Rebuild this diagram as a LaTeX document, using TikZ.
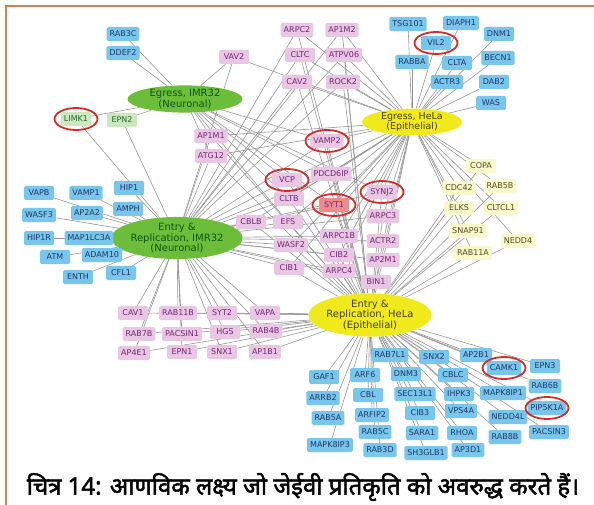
\documentclass[tikz,border=0pt]{standalone}
\usepackage{fontspec}
\setmainfont{DejaVu Sans}
\newfontfamily\hindifont[Script=Devanagari, AutoFakeBold=2]{Noto Sans}
\usetikzlibrary{shapes.geometric}
\pgfdeclarelayer{background}
\pgfsetlayers{background,main}
\definecolor{boxblue}{RGB}{120,198,235}
\definecolor{txtblue}{RGB}{35,55,105}
\definecolor{boxpink}{RGB}{234,198,229}
\definecolor{txtpink}{RGB}{115,40,115}
\definecolor{boxgreen}{RGB}{203,232,190}
\definecolor{txtgreen}{RGB}{45,100,45}
\definecolor{boxyellow}{RGB}{250,249,205}
\definecolor{txtyellow}{RGB}{85,80,25}
\definecolor{boxsalmon}{RGB}{236,140,140}
\definecolor{hubgreen}{RGB}{108,190,58}
\definecolor{hubgreentxt}{RGB}{15,85,20}
\definecolor{hubyellow}{RGB}{240,233,28}
\definecolor{hubyellowtxt}{RGB}{70,65,0}
\definecolor{ringred}{RGB}{212,45,40}
\definecolor{framecol}{RGB}{200,135,80}
\definecolor{linkgray}{RGB}{150,150,150}

\begin{document}
\begin{tikzpicture}[x=1pt,y=-1pt,
  gene/.style={rounded corners=1.5pt, minimum width=30pt, minimum height=14pt, inner xsep=3pt, inner ysep=0pt, font=\fontsize{8}{9}\selectfont},
  bluebox/.style={gene, fill=boxblue, text=txtblue},
  pinkbox/.style={gene, fill=boxpink, text=txtpink},
  greenbox/.style={gene, fill=boxgreen, text=txtgreen},
  yellowbox/.style={gene, fill=boxyellow, text=txtyellow},
  hub/.style={ellipse, inner sep=0pt, align=center, font=\fontsize{10}{10.5}\selectfont},
  greenhub/.style={hub, fill=hubgreen, text=hubgreentxt},
  yellowhub/.style={hub, fill=hubyellow, text=hubyellowtxt},
  ring/.style={ellipse, draw=ringred, line width=1.8pt, minimum width=43pt, minimum height=22pt, inner sep=0pt},
  link/.style={draw=linkgray, line width=0.6pt}]
\useasboundingbox (0,0) rectangle (594,505);
\draw[framecol, line width=1.5pt] (6,505) -- (6,6) -- (594,6);

\node[greenhub, minimum width=115pt, minimum height=25pt] (egressN) at (185,99) {Egress, IMR32\\(Neuronal)};
\node[greenhub, minimum width=114pt, minimum height=31pt] (entryN) at (177,238) {Entry \&\\Replication, IMR32\\(Neuronal)};
\node[yellowhub, minimum width=100pt, minimum height=24pt, font=\fontsize{9.5}{10}\selectfont] (egressE) at (412,122) {Egress, HeLa\\(Epithelial)};
\node[yellowhub, minimum width=115pt, minimum height=35pt] (entryE) at (370,315) {Entry \&\\Replication, HeLa\\(Epithelial)};

\foreach \n/\t/\x/\y in {rab3c/RAB3C/123/34, ddef2/DDEF2/123/53,
    tsg101/TSG101/408/24, diaph1/DIAPH1/461/23, vil2/VIL2/436/43, dnm1/DNM1/499/34,
    rabba/RABBA/412/62, clta/CLTA/457/63, becn1/BECN1/498/58, actr3/ACTR3/447/82,
    dab2/DAB2/494/82, was/WAS/491/103,
    vapb/VAPB/39/193, vamp1/VAMP1/86/193, hip1/HIP1/129/188, wasf3/WASF3/39/215,
    ap2a2/AP2A2/87/213, amph/AMPH/128/209, hip1r/HIP1R/39/238, map1lc3a/MAP1LC3A/89/238,
    atm/ATM/55/257, adam10/ADAM10/102/255, enth/ENTH/78/277, cfl1/CFL1/121/273,
    rab7l1/RAB7L1/390/355, snx2/SNX2/434/357, ap2b1/AP2B1/476/355, camk1/CAMK1/504/368,
    epn3/EPN3/545/366, gaf1/GAF1/324/377, arf6/ARF6/365/375, dnm3/DNM3/406/374,
    cblc/CBLC/453/375, rab6b/RAB6B/545/386, arrb2/ARRB2/323/398, cbl/CBL/368/395,
    sec13l1/SEC13L1/415/394, ihpk3/IHPK3/459/394, mapk8ip1/MAPK8IP1/503/393,
    pip5k1a/PIP5K1A/547/408, rab5a/RAB5A/328/418, arfip2/ARFIP2/372/415, cib3/CIB3/420/413,
    vps4a/VPS4A/461/411, nedd4l/NEDD4L/508/417, pacsin3/PACSIN3/549/432, rab5c/RAB5C/375/432,
    sara1/SARA1/422/433, rhoa/RHOA/462/433, rab8b/RAB8B/505/437, mapk8ip3/MAPK8IP3/330/445,
    rab3d/RAB3D/380/450, sh3glb1/SH3GLB1/426/453, ap3d1/AP3D1/468/450}
  \node[bluebox] (\n) at (\x,\y) {\t};

\foreach \n/\t/\x/\y in {vav2/VAV2/234/57, arpc2/ARPC2/297/30, ap1m2/AP1M2/342/30,
    cltc/CLTC/300/55, atpv06/ATPV06/344/55, cav2/CAV2/297/82, rock2/ROCK2/343/82,
    ap1m1/AP1M1/211/136, atg12/ATG12/211/156, vamp2/VAMP2/327/141,
    vcp/VCP/287/180, pdcd6ip/PDCD6IP/331/174, cltb/CLTB/289/199, synj2/SYNJ2/382/192,
    cblb/CBLB/251/222, efs/EFS/288/222, arpc3/ARPC3/383/216, arpc1b/ARPC1B/339/236,
    wasf2/WASF2/291/245, actr2/ACTR2/383/241, cib2/CIB2/339/255, ap2m1/AP2M1/383/260,
    cib1/CIB1/289/268, arpc4/ARPC4/339/271, bin1/BIN1/376/282,
    cav1/CAV1/133/313, rab11b/RAB11B/178/313, syt2/SYT2/222/313, vapa/VAPA/265/313,
    rab7b/RAB7B/139/334, pacsin1/PACSIN1/182/334, hgs/HGS/225/332, rab4b/RAB4B/266/331,
    ap4e1/AP4E1/134/353, epn1/EPN1/182/352, snx1/SNX1/222/352, ap1b1/AP1B1/265/352}
  \node[pinkbox] (\n) at (\x,\y) {\t};
\node[pinkbox, fill=boxsalmon] (syt1) at (334,205) {SYT1};

\foreach \n/\t/\x/\y in {limk1/LIMK1/76/119, epn2/EPN2/122/120}
  \node[greenbox] (\n) at (\x,\y) {\t};

\foreach \n/\t/\x/\y in {copa/COPA/481/166, cdc42/CDC42/459/188, rab5b/RAB5B/500/186,
    elks/ELKS/459/208, cltcl1/CLTCL1/501/208, snap91/SNAP91/468/231,
    nedd4/NEDD4/518/241, rab11a/RAB11A/473/253}
  \node[yellowbox] (\n) at (\x,\y) {\t};

\foreach \n in {limk1, vil2, vamp2, vcp, syt1, synj2, camk1, pip5k1a}
  \node[ring] (\n-ring) at (\n) {};

\begin{pgfonlayer}{background}
\foreach \n in {rab3c, ddef2, limk1, epn2, vav2, ap1m1, atg12, vamp2, vcp, syt1, synj2,
    cltb, pdcd6ip, efs}
  \draw[link] (egressN) -- (\n);
\foreach \n in {tsg101, diaph1, vil2, dnm1, rabba, clta, becn1, actr3, dab2, was,
    copa, cdc42, rab5b, elks, cltcl1, snap91, nedd4, rab11a,
    vav2, arpc2, ap1m2, cltc, atpv06, cav2, rock2, ap1m1, atg12, vamp2,
    vcp, pdcd6ip, cltb, syt1, synj2, cblb, efs, arpc3, arpc1b, wasf2, actr2,
    cib2, ap2m1, cib1, arpc4, bin1}
  \draw[link] (egressE) -- (\n);
\foreach \n in {vapb, vamp1, hip1, wasf3, ap2a2, amph, hip1r, map1lc3a, atm, adam10,
    enth, cfl1, limk1, epn2, vav2, arpc2, ap1m2, cltc, atpv06, cav2, rock2, ap1m1, atg12,
    vamp2, vcp, pdcd6ip, cltb, syt1, synj2, cblb, efs, arpc3, arpc1b, wasf2, actr2,
    cib2, ap2m1, cib1, arpc4, bin1, cav1, rab11b, syt2, vapa, rab7b, pacsin1, hgs,
    rab4b, ap4e1, epn1, snx1, ap1b1}
  \draw[link] (entryN) -- (\n);
\foreach \n in {rab7l1, snx2, ap2b1, camk1, epn3, gaf1, arf6, dnm3, cblc, rab6b, arrb2,
    cbl, sec13l1, ihpk3, mapk8ip1, pip5k1a, rab5a, arfip2, cib3, vps4a, nedd4l, pacsin3,
    rab5c, sara1, rhoa, rab8b, mapk8ip3, rab3d, sh3glb1, ap3d1,
    copa, cdc42, rab5b, elks, cltcl1, snap91, nedd4, rab11a,
    arpc2, ap1m2, cltc, atpv06, cav2, rock2, ap1m1, atg12, vamp2,
    vcp, pdcd6ip, cltb, syt1, synj2, cblb, efs, arpc3, arpc1b, wasf2, actr2,
    cib2, ap2m1, cib1, arpc4, bin1, cav1, rab11b, syt2, vapa, rab7b, pacsin1, hgs,
    rab4b, ap4e1, epn1, snx1, ap1b1}
  \draw[link] (entryE) -- (\n);
\end{pgfonlayer}

\node[font=\hindifont\bfseries\fontsize{24}{26}\selectfont] (caption) at (303,487)
  {चित्र 14: आणविक लक्ष्य जो जेईवी प्रतिकृति को अवरुद्ध करते हैं।};
\end{tikzpicture}
\end{document}
